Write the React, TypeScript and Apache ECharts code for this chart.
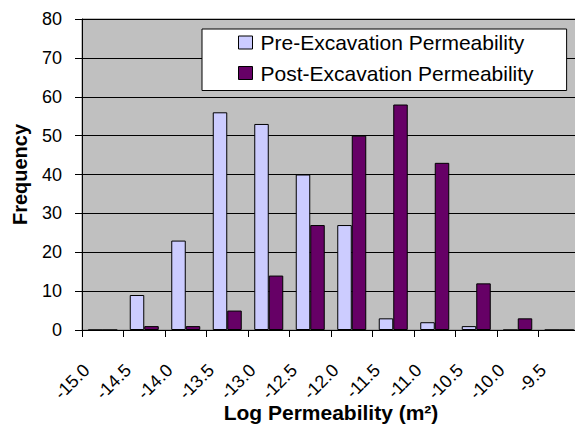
import React, { useEffect, useRef } from "react";
import * as echarts from "echarts";

const categories = ["-15.0", "-14.5", "-14.0", "-13.5", "-13.0", "-12.5", "-12.0", "-11.5", "-11.0", "-10.5", "-10.0", "-9.5"];
const preValues = [0, 9, 23, 56, 53, 40, 27, 3, 2, 1, 0, 0];
const postValues = [0, 1, 1, 5, 14, 27, 50, 58, 43, 12, 3, 0];
const seriesNames = ["Pre-Excavation Permeability", "Post-Excavation Permeability"];
const yTicks = { min: 0, max: 80, interval: 10 };

const FONT = "'Liberation Sans', Arial, sans-serif";

export default function App() {
  const ref = useRef<HTMLDivElement>(null);
  useEffect(() => {
    if (!ref.current) return;
    const chart = echarts.init(ref.current, null, { renderer: "svg" });
    chart.setOption({
      animation: false,
      backgroundColor: "#ffffff",
      textStyle: { fontFamily: FONT, color: "#000" },
      grid: {
        left: 82,
        top: 19,
        width: 498,
        height: 311,
        containLabel: false,
        outerBoundsMode: "none",
        show: true,
        backgroundColor: "#C0C0C0",
        borderColor: "#808080",
        borderWidth: 1,
      },
      legend: {
        orient: "vertical",
        left: 202,
        top: 29,
        padding: [3, 33, 7, 36],
        itemGap: 9.5,
        itemWidth: 14,
        itemHeight: 13,
        backgroundColor: "#ffffff",
        borderColor: "#000000",
        borderWidth: 1,
        borderRadius: 0,
        icon: "rect",
        itemStyle: { borderColor: "#000", borderWidth: 1 },
        textStyle: { fontFamily: FONT, fontSize: 21, color: "#000", padding: [0, 0, 0, 3], lineHeight: 21 },
        data: seriesNames,
      },
      xAxis: {
        type: "category",
        data: categories,
        boundaryGap: true,
        name: "Log Permeability (m²)",
        nameLocation: "middle",
        nameGap: 72,
        nameMoveOverlap: false,
        nameTextStyle: { fontFamily: FONT, fontSize: 21, fontWeight: "bold", color: "#000" },
        axisLine: { show: true, lineStyle: { color: "#000", width: 1 } },
        axisTick: { show: true, length: 7, lineStyle: { color: "#000" } },
        axisLabel: {
          rotate: 45,
          interval: 0,
          fontSize: 18,
          fontFamily: FONT,
          color: "#000",
          margin: 21,
          padding: [0, 23, 0, 0],
        },
        splitLine: { show: false },
      },
      yAxis: {
        type: "value",
        min: yTicks.min,
        max: yTicks.max,
        interval: yTicks.interval,
        name: "Frequency",
        nameLocation: "middle",
        nameGap: 52,
        nameMoveOverlap: false,
        nameTextStyle: { fontFamily: FONT, fontSize: 20, fontWeight: "bold", color: "#000" },
        axisLine: { show: true, lineStyle: { color: "#000", width: 1 } },
        axisTick: { show: true, length: 7, lineStyle: { color: "#000" } },
        axisLabel: { fontSize: 18, fontFamily: FONT, color: "#000", margin: 20 },
        splitLine: { show: true, lineStyle: { color: "#000", width: 1 } },
      },
      series: [
        {
          name: seriesNames[0],
          type: "bar",
          data: preValues,
          barWidth: 14.5,
          barGap: "0%",
          itemStyle: { color: "#CCCCFF", borderColor: "#000", borderWidth: 1 },
        },
        {
          name: seriesNames[1],
          type: "bar",
          data: postValues,
          barWidth: 14.5,
          barGap: "0%",
          itemStyle: { color: "#660066", borderColor: "#000", borderWidth: 1 },
        },
      ],
    });
    return () => chart.dispose();
  }, []);
  return (
    <div
      ref={ref}
      style={{ position: "fixed", left: 0, top: 0, width: 575, height: 426 }}
    />
  );
}
